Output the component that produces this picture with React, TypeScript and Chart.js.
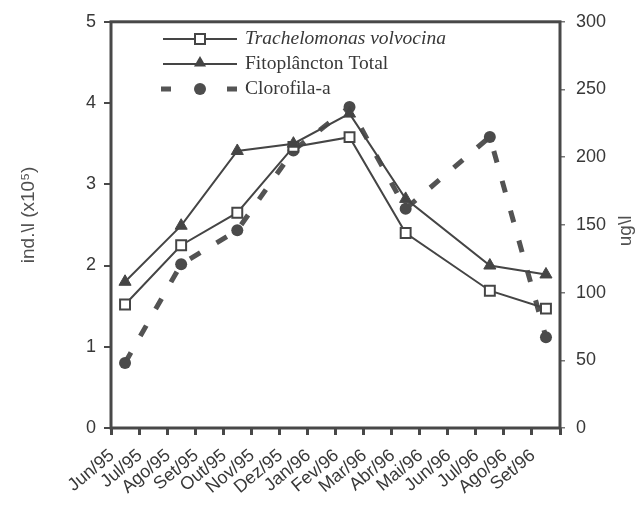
import React, { useEffect, useRef } from 'react';
import { Chart, registerables } from 'chart.js';

Chart.register(...registerables);

const months = ['Jun/95', 'Jul/95', 'Ago/95', 'Set/95', 'Out/95', 'Nov/95', 'Dez/95', 'Jan/96', 'Fev/96', 'Mar/96', 'Abr/96', 'Mai/96', 'Jun/96', 'Jul/96', 'Ago/96', 'Set/96'];
const trachelomonas = [1.52, null, 2.25, null, 2.65, null, 3.46, null, 3.58, null, 2.4, null, null, 1.69, null, 1.47];
const fitoplancton = [1.8, null, 2.49, null, 3.41, null, 3.5, null, 3.87, null, 2.82, null, null, 2.0, null, 1.89];
const clorofila = [48, null, 121, null, 146, null, 205, null, 237, null, 162, null, null, 215, null, 67];
const leftTicks = [0, 1, 2, 3, 4, 5];
const rightTicks = [0, 50, 100, 150, 200, 250, 300];
const seriesNames = ['Trachelomonas volvocina', 'Fitoplâncton Total', 'Clorofila-a'];
const leftTitle = 'ind.\\l (x10⁵)';
const rightTitle = 'ug\\l';

const FRAME = '#484848';
const LINE = '#454545';
const TEXT = '#383838';
const SANS = '"Liberation Sans", Arial, sans-serif';
const SERIF = '"Liberation Serif", "Times New Roman", serif';

function drawTriangle(ctx: CanvasRenderingContext2D, x: number, y: number, r: number) {
  let rad = 0;
  ctx.beginPath();
  ctx.moveTo(x + Math.sin(rad) * r, y - Math.cos(rad) * r);
  rad += (2 * Math.PI) / 3;
  ctx.lineTo(x + Math.sin(rad) * r, y - Math.cos(rad) * r);
  rad += (2 * Math.PI) / 3;
  ctx.lineTo(x + Math.sin(rad) * r, y - Math.cos(rad) * r);
  ctx.closePath();
  ctx.fill();
}

const overlay = {
  id: 'overlay',
  afterDatasetsDraw(chart: any) {
    const { ctx, chartArea: a } = chart;
    ctx.save();
    // frame
    ctx.strokeStyle = FRAME;
    ctx.lineWidth = 3;
    ctx.strokeRect(a.left, a.top, a.right - a.left, a.bottom - a.top);

    // legend
    const x0 = 163, x1 = 237, xm = 200, tx = 245;
    const rows = [39, 64, 89];
    ctx.strokeStyle = LINE;
    ctx.fillStyle = LINE;
    // row 1
    ctx.lineWidth = 2;
    ctx.beginPath();
    ctx.moveTo(x0, rows[0]);
    ctx.lineTo(x1, rows[0]);
    ctx.stroke();
    ctx.fillStyle = '#ffffff';
    ctx.fillRect(xm - 5, rows[0] - 5, 10, 10);
    ctx.strokeRect(xm - 5, rows[0] - 5, 10, 10);
    // row 2
    ctx.fillStyle = LINE;
    ctx.beginPath();
    ctx.moveTo(x0, rows[1]);
    ctx.lineTo(x1, rows[1]);
    ctx.stroke();
    drawTriangle(ctx, xm, rows[1] - 1, 7);
    // row 3
    ctx.lineWidth = 5;
    ctx.strokeStyle = '#555555';
    ctx.beginPath();
    ctx.moveTo(x0 - 2, rows[2]);
    ctx.lineTo(x0 + 8, rows[2]);
    ctx.moveTo(x1 - 10, rows[2]);
    ctx.lineTo(x1, rows[2]);
    ctx.stroke();
    ctx.fillStyle = '#4d4d4d';
    ctx.beginPath();
    ctx.arc(xm, rows[2], 6, 0, Math.PI * 2);
    ctx.fill();

    ctx.fillStyle = TEXT;
    ctx.textBaseline = 'middle';
    ctx.textAlign = 'left';
    ctx.font = 'italic 19.5px ' + SERIF;
    ctx.fillText(seriesNames[0], tx, rows[0]);
    ctx.font = '19.5px ' + SERIF;
    ctx.fillText(seriesNames[1], tx, rows[1]);
    ctx.fillText(seriesNames[2], tx, rows[2]);

    // axis titles (both read bottom-to-top)
    const cy = (a.top + a.bottom) / 2;
    ctx.font = '19px ' + SANS;
    ctx.textAlign = 'center';
    ctx.fillStyle = '#505050';
    ctx.save();
    ctx.translate(29, cy - 10);
    ctx.rotate(-Math.PI / 2);
    ctx.fillText(leftTitle, 0, 0);
    ctx.restore();
    ctx.save();
    ctx.translate(626, cy + 6);
    ctx.rotate(-Math.PI / 2);
    ctx.fillText(rightTitle, 0, 0);
    ctx.restore();

    ctx.restore();
  },
};

export default function App() {
  const ref = useRef<HTMLCanvasElement | null>(null);

  useEffect(() => {
    if (!ref.current) return;
    const tickFont = { family: SANS, size: 18 };
    const chart = new Chart(ref.current, {
      type: 'line',
      data: {
        labels: months,
        datasets: [
          {
            label: seriesNames[0],
            data: trachelomonas,
            yAxisID: 'y',
            borderColor: LINE,
            borderWidth: 2,
            pointStyle: 'rect',
            pointRadius: 7,
            pointBorderWidth: 2,
            pointBackgroundColor: '#ffffff',
            pointBorderColor: LINE,
            spanGaps: true,
            tension: 0,
            order: 2,
          },
          {
            label: seriesNames[1],
            data: fitoplancton,
            yAxisID: 'y',
            borderColor: LINE,
            borderWidth: 2,
            pointStyle: 'triangle',
            pointRadius: 7,
            pointBorderWidth: 1,
            pointBackgroundColor: LINE,
            pointBorderColor: LINE,
            spanGaps: true,
            tension: 0,
            order: 1,
          },
          {
            label: seriesNames[2],
            data: clorofila,
            yAxisID: 'y1',
            borderColor: '#535353',
            borderWidth: 5,
            borderDash: [12, 19],
            pointStyle: 'circle',
            pointRadius: 6,
            pointBorderWidth: 0,
            pointBackgroundColor: '#4a4a4a',
            pointBorderColor: '#4a4a4a',
            spanGaps: true,
            tension: 0,
            order: 3,
          },
        ],
      },
      options: {
        animation: false,
        responsive: false,
        devicePixelRatio: 1,
        layout: { padding: { top: 16, left: 0, right: 0, bottom: 0 } },
        plugins: { legend: { display: false }, tooltip: { enabled: false } },
        scales: {
          x: {
            type: 'category',
            offset: true,
            grid: { offset: true, drawOnChartArea: false, drawTicks: true, tickLength: 7, lineWidth: 3, color: FRAME },
            border: { display: false },
            ticks: {
              autoSkip: false,
              minRotation: 40,
              maxRotation: 40,
              labelOffset: -13,
              padding: 10,
              color: TEXT,
              font: { family: SANS, size: 18 },
            },
            afterFit: (s: any) => {
              s.height = 77;
            },
          },
          y: {
            position: 'left',
            min: 0,
            max: 5,
            afterBuildTicks: (s: any) => {
              s.ticks = leftTicks.map((v) => ({ value: v }));
            },
            ticks: { padding: 8, color: TEXT, font: tickFont },
            grid: { drawOnChartArea: false, drawTicks: true, tickLength: 7, lineWidth: 2, color: FRAME },
            border: { display: false },
            afterFit: (s: any) => {
              s.width = 111;
            },
          },
          y1: {
            position: 'right',
            min: 0,
            max: 300,
            afterBuildTicks: (s: any) => {
              s.ticks = rightTicks.map((v) => ({ value: v }));
            },
            ticks: { padding: 11, color: TEXT, font: tickFont },
            grid: { drawOnChartArea: false, drawTicks: true, tickLength: 5, lineWidth: 1.5, color: '#777777' },
            border: { display: false },
            afterFit: (s: any) => {
              s.width = 80;
            },
          },
        },
      },
      plugins: [overlay],
    } as any);
    return () => chart.destroy();
  }, []);

  return (
    <div style={{ position: 'fixed', left: 0, top: 0, width: 640, height: 505, background: '#ffffff' }}>
      <canvas ref={ref} width={640} height={505} style={{ display: 'block', width: 640, height: 505 }} />
    </div>
  );
}
